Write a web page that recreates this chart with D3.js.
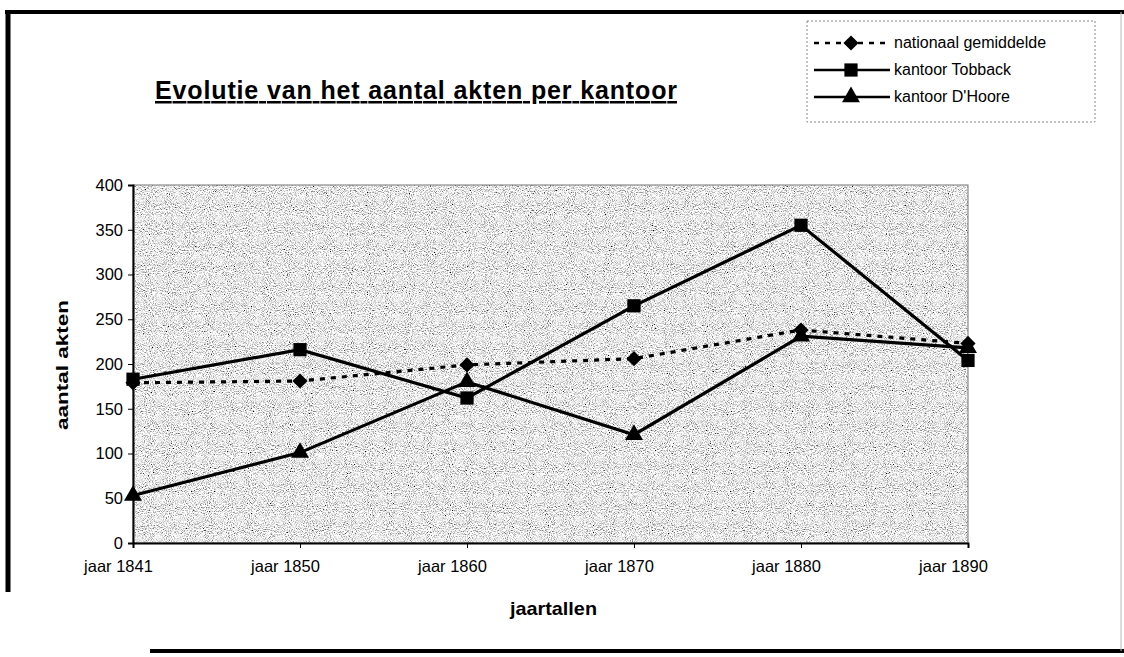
<!DOCTYPE html>
<html>
<head>
<meta charset="utf-8">
<script src="https://cdn.jsdelivr.net/npm/d3@7"></script>
<style>
  body { margin: 0; background: #fff; }
  svg { display: block; font-family: "Liberation Sans", Arial, sans-serif; }
</style>
</head>
<body>
<svg></svg>
<script>
'use strict';
// Chart data
var categories = ['jaar 1841', 'jaar 1850', 'jaar 1860', 'jaar 1870', 'jaar 1880', 'jaar 1890'];
var nationaal = [179, 181, 199, 206, 238, 223];
var tobback = [183, 216, 162, 265, 355, 204];
var dhoore = [53, 101, 180, 121, 231, 218];
var yTicks = [0, 50, 100, 150, 200, 250, 300, 350, 400];
var seriesNames = ['nationaal gemiddelde', 'kantoor Tobback', "kantoor D'Hoore"];

var canvasWidth = 1124;
var canvasHeight = 657;
var plot = { left: 133, right: 968, top: 185, bottom: 543 };

var svg = d3.select('svg')
  .attr('width', canvasWidth)
  .attr('height', canvasHeight);

// grainy gray background like the scanned original
var defs = svg.append('defs');
var grain = defs.append('filter').attr('id', 'grain')
  .attr('x', 0).attr('y', 0).attr('width', 1).attr('height', 1);
grain.append('feTurbulence')
  .attr('type', 'fractalNoise')
  .attr('baseFrequency', 0.95)
  .attr('numOctaves', 2)
  .attr('seed', 7)
  .attr('result', 'noise');
grain.append('feColorMatrix')
  .attr('in', 'noise')
  .attr('type', 'matrix')
  .attr('values', '2.4 0 0 0 -0.38  2.4 0 0 0 -0.38  2.4 0 0 0 -0.38  0 0 0 0 1');

var xScale = d3.scalePoint().domain(categories).range([plot.left, plot.right]);
var yScale = d3.scaleLinear().domain([0, 400]).range([plot.bottom, plot.top]);

// outer frame
var frame = svg.append('g').attr('stroke', '#000').attr('fill', 'none');
frame.append('line').attr('x1', 5).attr('x2', 1124).attr('y1', 12).attr('y2', 12).attr('stroke-width', 4);
frame.append('line').attr('x1', 8).attr('x2', 8).attr('y1', 10).attr('y2', 592).attr('stroke-width', 5);
frame.append('line').attr('x1', 150).attr('x2', 1124).attr('y1', 651).attr('y2', 651).attr('stroke-width', 4);
frame.append('line').attr('x1', 1121).attr('x2', 1121).attr('y1', 12).attr('y2', 651)
  .attr('stroke-width', 1).attr('stroke', '#bbb');

// plot area
svg.append('rect')
  .attr('x', plot.left).attr('y', plot.top)
  .attr('width', plot.right - plot.left).attr('height', plot.bottom - plot.top)
  .attr('filter', 'url(#grain)');
svg.append('rect')
  .attr('x', plot.left).attr('y', plot.top)
  .attr('width', plot.right - plot.left).attr('height', plot.bottom - plot.top)
  .attr('fill', 'none').attr('stroke', '#777').attr('stroke-width', 1);

// axes
var yAxis = svg.append('g')
  .attr('transform', 'translate(' + plot.left + ',0)')
  .call(d3.axisLeft(yScale).tickValues(yTicks).tickSize(5).tickPadding(5));
var xAxis = svg.append('g')
  .attr('transform', 'translate(0,' + plot.bottom + ')')
  .call(d3.axisBottom(xScale).tickSize(5).tickPadding(12));
[xAxis, yAxis].forEach(function(ax) {
  ax.select('.domain').attr('stroke', '#000').attr('stroke-width', 2);
  ax.selectAll('.tick line').attr('stroke', '#000').attr('stroke-width', 1);
  ax.selectAll('.tick text')
    .attr('fill', '#000')
    .style('font-family', '"Liberation Sans", Arial, sans-serif')
    .style('font-size', '16.5px');
});
xAxis.selectAll('.tick text').attr('dx', -15);

// titles
svg.append('text')
  .attr('x', 155).attr('y', 99)
  .attr('textLength', 522).attr('lengthAdjust', 'spacing')
  .style('font-size', '25px').style('font-weight', 'bold')
  .style('text-decoration', 'underline')
  .text('Evolutie van het aantal akten per kantoor');
svg.append('text')
  .attr('x', 510).attr('y', 615)
  .attr('textLength', 87).attr('lengthAdjust', 'spacingAndGlyphs')
  .style('font-size', '19px').style('font-weight', 'bold')
  .text('jaartallen');
svg.append('text')
  .attr('transform', 'translate(68,430) rotate(-90)')
  .attr('textLength', 130).attr('lengthAdjust', 'spacingAndGlyphs')
  .style('font-size', '17px').style('font-weight', 'bold')
  .text('aantal akten');

// series
var series = [
  { name: seriesNames[0], values: nationaal, symbol: d3.symbolSquare, size: 115, rot: 45, dash: '5,6' },
  { name: seriesNames[1], values: tobback, symbol: d3.symbolSquare, size: 175, rot: 0, dash: null },
  { name: seriesNames[2], values: dhoore, symbol: d3.symbolTriangle, size: 140, rot: 0, dash: null }
];

var line = d3.line()
  .x(function(d, i) { return xScale(categories[i]); })
  .y(function(d) { return yScale(d); });

series.forEach(function(s) {
  svg.append('path')
    .datum(s.values)
    .attr('d', line)
    .attr('fill', 'none')
    .attr('stroke', '#000')
    .attr('stroke-width', 3.2)
    .attr('stroke-dasharray', s.dash);
  svg.append('g').selectAll('path').data(s.values)
    .enter().append('path')
    .attr('d', d3.symbol().type(s.symbol).size(s.size))
    .attr('transform', function(d, i) {
      return 'translate(' + xScale(categories[i]) + ',' + yScale(d) + ') rotate(' + s.rot + ')';
    })
    .attr('fill', '#000');
});

// legend
var legend = svg.append('g');
legend.append('rect')
  .attr('x', 807).attr('y', 21).attr('width', 288).attr('height', 101)
  .attr('fill', '#fff').attr('stroke', '#888').attr('stroke-width', 1)
  .attr('stroke-dasharray', '2,2');
series.forEach(function(s, i) {
  var y = 43 + i * 27;
  legend.append('line')
    .attr('x1', 814).attr('x2', 890).attr('y1', y).attr('y2', y)
    .attr('stroke', '#000').attr('stroke-width', 2.5)
    .attr('stroke-dasharray', s.dash);
  legend.append('path')
    .attr('d', d3.symbol().type(s.symbol).size(s.size))
    .attr('transform', 'translate(851,' + y + ') rotate(' + s.rot + ')');
  legend.append('text')
    .attr('x', 894).attr('y', y + 5)
    .style('font-size', '16px')
    .text(s.name);
});
</script>
</body>
</html>
